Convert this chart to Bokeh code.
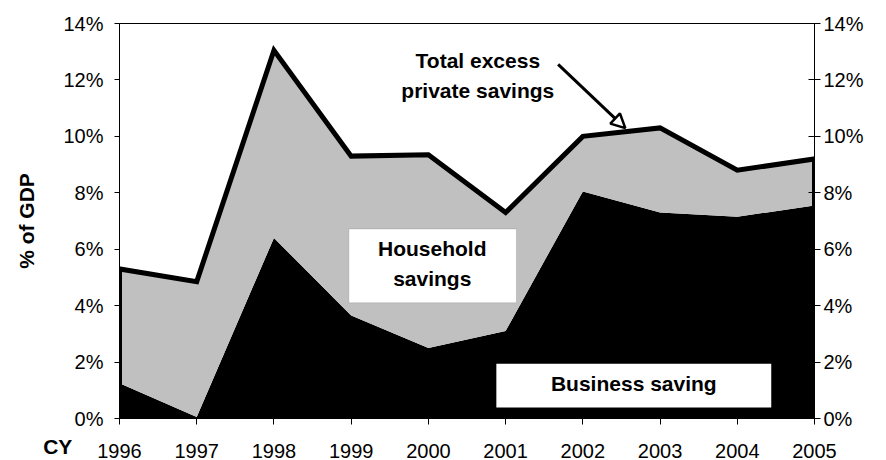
from bokeh.plotting import figure
from bokeh.models import (ColumnDataSource, Range1d, LinearAxis, FixedTicker,
                          PrintfTickFormatter, Label, BoxAnnotation, Arrow, NormalHead)
from bokeh.core.properties import value
from bokeh.embed import file_html
from bokeh.resources import INLINE

# ---- data ----
years = [1996, 1997, 1998, 1999, 2000, 2001, 2002, 2003, 2004, 2005]
business = [1.25, 0.05, 6.4, 3.65, 2.5, 3.1, 8.05, 7.3, 7.15, 7.55]
household = [4.05, 4.8, 6.65, 5.65, 6.85, 4.2, 1.95, 3.0, 1.65, 1.65]
y_ticks = [0, 2, 4, 6, 8, 10, 12, 14]

total = [b + h for b, h in zip(business, household)]

FONT = "Liberation Sans"

src = ColumnDataSource(dict(year=years, business=business, household=household, total=total))
# outline of the total-savings area: closed down to the axis at both ends
line_src = ColumnDataSource(dict(x=[years[0]] + years + [years[-1]], y=[0] + total + [0]))

p = figure(width=886, height=460, output_backend="svg", toolbar_location=None,
           x_range=Range1d(1996, 2005), y_range=Range1d(0, 14),
           min_border_left=119, min_border_right=72, min_border_top=23, min_border_bottom=41)
p.grid.visible = False
p.outline_line_color = "black"
p.outline_line_width = 1
p.background_fill_color = "white"
p.border_fill_color = "white"

p.varea_stack(["business", "household"], x="year", source=src,
              color=["black", "#C0C0C0"])
p.line("x", "y", source=line_src, line_color="black", line_width=5, line_join="miter")

# axes
def style_axis(ax):
    ax.axis_line_color = "black"
    ax.major_tick_line_color = "black"
    ax.minor_tick_line_color = None
    ax.major_label_text_font = FONT
    ax.major_label_text_font_size = "20px"
    ax.major_label_text_color = "black"

xa = p.xaxis[0]
style_axis(xa)
xa.ticker = FixedTicker(ticks=years)
xa.major_tick_in = 0
xa.major_tick_out = 6
xa.major_label_standoff = 19

ya = p.yaxis[0]
style_axis(ya)
ya.ticker = FixedTicker(ticks=y_ticks)
ya.formatter = PrintfTickFormatter(format="%d%%")
ya.major_tick_in = 0
ya.major_tick_out = 5
ya.major_label_standoff = 11
ya.axis_label = "% of GDP"
ya.axis_label_text_font = FONT
ya.axis_label_text_font_style = "bold"
ya.axis_label_text_font_size = "21px"
ya.axis_label_text_color = "black"
ya.axis_label_standoff = 22

ra = LinearAxis(ticker=FixedTicker(ticks=y_ticks), formatter=PrintfTickFormatter(format="%d%%"))
style_axis(ra)
ra.major_tick_in = 6
ra.major_tick_out = 6
ra.major_label_standoff = 3
p.add_layout(ra, "right")

# annotations
bold = dict(text_font=FONT, text_font_style="bold", text_font_size="21px",
            text_color="black", text_align="center", text_baseline="middle")

p.add_layout(BoxAnnotation(left=1998.97, right=2001.14, bottom=4.10, top=6.72,
                           fill_color="white", fill_alpha=1, line_color="#808080", line_width=1))
p.add_layout(Label(x=2000.05, y=6.04, text="Household", **bold))
p.add_layout(Label(x=2000.05, y=4.95, text="savings", **bold))

p.add_layout(BoxAnnotation(left=2000.88, right=2004.44, bottom=0.39, top=1.94,
                           fill_color="white", fill_alpha=1, line_color=None))
p.add_layout(Label(x=2002.66, y=1.24, text="Business saving", **bold))

p.add_layout(Label(x=2000.64, y=12.69, text="Total excess", **bold))
p.add_layout(Label(x=2000.64, y=11.63, text="private savings", **bold))
p.add_layout(Arrow(x_start=2001.68, y_start=12.55, x_end=2002.55, y_end=10.29,
                   line_width=3, line_color="black",
                   end=NormalHead(size=14, fill_color="white", line_color="black", line_width=2.5)))

# "CY" caption to the left of the year labels (overlay level is drawn outside the frame)
p.text(x=[1995.2], y=[-1.0], text=["CY"], text_font=value(FONT), text_font_style="bold",
       text_font_size="21px", text_color="black", text_align="center",
       text_baseline="middle", level="overlay")

open("out.html", "w").write(file_html(p, INLINE))
